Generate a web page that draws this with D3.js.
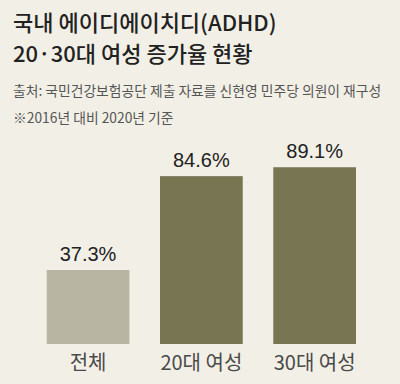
<!DOCTYPE html>
<html>
<head>
<meta charset="utf-8">
<script src="https://cdn.jsdelivr.net/npm/d3@7"></script>
<style>
  html, body { margin: 0; padding: 0; background: #f2f0e6; }
  svg { display: block; font-family: "Noto Sans CJK KR", "Noto Sans", sans-serif; }
</style>
</head>
<body>
<svg id="chart"></svg>
<script>
// Data
const categories = ["전체", "20대 여성", "30대 여성"];
const values = [37.3, 84.6, 89.1];
const valueLabels = ["37.3%", "84.6%", "89.1%"];
const barColors = ["#b8b6a2", "#787552", "#787552"];

const titleLines = ["국내 에이디에이치디(ADHD)", "20·30대 여성 증가율 현황"];
const noteLines = ["출처: 국민건강보험공단 제출 자료를 신현영 민주당 의원이 재구성", "※2016년 대비 2020년 기준"];

const width = 400, height = 384;

const svg = d3.select("#chart")
  .attr("width", width)
  .attr("height", height);

svg.append("rect")
  .attr("width", width)
  .attr("height", height)
  .attr("fill", "#f2f0e6");

// Title
svg.selectAll(".title")
  .data(titleLines)
  .enter()
  .append("text")
  .attr("class", "title")
  .attr("x", 13)
  .attr("y", (d, i) => 31 + i * 31)
  .attr("font-size", "22px")
  .attr("font-weight", 500)
  .attr("fill", "#222")
  .text(d => d);

// Source notes
svg.selectAll(".note")
  .data(noteLines)
  .enter()
  .append("text")
  .attr("class", "note")
  .attr("x", 13)
  .attr("y", (d, i) => 96 + i * 27)
  .attr("font-size", "13.8px")
  .attr("fill", "#555")
  .text(d => d);

// Scales
const x = d3.scaleBand()
  .domain(categories)
  .range([46.7, 356])
  .paddingInner(0.27)
  .paddingOuter(0);

const y = d3.scaleLinear()
  .domain([0, 100])
  .range([344, 145.6]);

// Bars
svg.selectAll(".bar")
  .data(values)
  .enter()
  .append("rect")
  .attr("class", "bar")
  .attr("x", (d, i) => x(categories[i]))
  .attr("y", d => y(d))
  .attr("width", x.bandwidth())
  .attr("height", d => y(0) - y(d))
  .attr("fill", (d, i) => barColors[i]);

// Value labels
svg.selectAll(".value")
  .data(values)
  .enter()
  .append("text")
  .attr("class", "value")
  .attr("x", (d, i) => x(categories[i]) + x.bandwidth() / 2)
  .attr("y", d => y(d) - 9)
  .attr("text-anchor", "middle")
  .attr("font-family", "Liberation Sans, Arial, sans-serif")
  .attr("font-size", "20px")
  .attr("fill", "#222")
  .text((d, i) => valueLabels[i]);

// Category axis
const xAxis = svg.append("g")
  .attr("transform", `translate(0,${y(0)})`)
  .call(d3.axisBottom(x).tickSize(0).tickPadding(26));

xAxis.select(".domain").remove();
xAxis.selectAll("text")
  .attr("font-family", "Noto Sans CJK KR, sans-serif")
  .attr("font-size", "20px")
  .attr("fill", "#4a4a4a")
  .attr("dy", 0);
</script>
</body>
</html>
